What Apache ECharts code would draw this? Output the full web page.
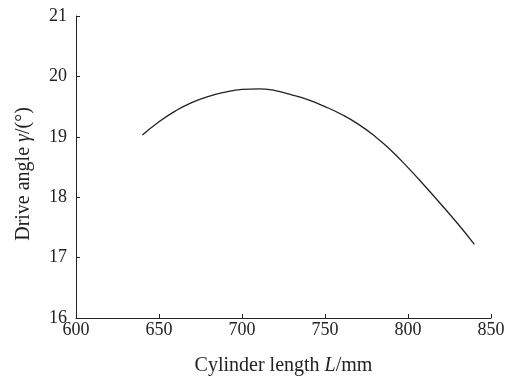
<!DOCTYPE html>
<html>
<head>
<meta charset="utf-8">
<script src="https://cdn.jsdelivr.net/npm/echarts@6/dist/echarts.min.js"></script>
<style>html,body{margin:0;padding:0;background:#fff;}#c{width:513px;height:381px;}</style>
</head>
<body>
<div id="c"></div>
<script>
var lengths = [640, 650, 660, 670, 680, 690, 700, 710, 720, 730, 740, 750, 760, 770, 780, 790, 800, 810, 820, 830, 840];
var angles = [19.03, 19.25, 19.43, 19.57, 19.67, 19.74, 19.785, 19.795, 19.765, 19.695, 19.61, 19.50, 19.37, 19.21, 19.01, 18.77, 18.49, 18.19, 17.88, 17.56, 17.22];

var FONT = 'Liberation Serif';
var chart = echarts.init(document.getElementById('c'), null, {renderer: 'canvas'});
var pts = lengths.map(function (x, i) { return [x, angles[i]]; });
var axisCommon = {
  axisLine: {show: true, onZero: false, lineStyle: {color: '#222', width: 1}},
  axisTick: {show: true, inside: true, length: 4, lineStyle: {color: '#222', width: 1}},
  splitLine: {show: false},
  axisLabel: {color: '#222', fontFamily: FONT, fontSize: 18}
};
var rich = {
  a: {fontFamily: FONT, fontSize: 20, color: '#222'},
  i: {fontFamily: FONT, fontSize: 20, color: '#222', fontStyle: 'italic'}
};
chart.setOption({
  animation: false,
  grid: {left: 76, right: 22, top: 16, bottom: 63, containLabel: false},
  xAxis: Object.assign({}, axisCommon, {
    type: 'value', min: 600, max: 850, interval: 50,
    axisLabel: Object.assign({}, axisCommon.axisLabel, {margin: 3}),
    name: '{a|Cylinder length }{i|L}{a|/mm}',
    nameLocation: 'middle', nameGap: 38,
    nameTextStyle: {rich: rich}
  }),
  yAxis: Object.assign({}, axisCommon, {
    type: 'value', min: 16, max: 21, interval: 1,
    axisLabel: Object.assign({}, axisCommon.axisLabel, {margin: 9}),
    name: '{a|Drive angle }{i|γ}{a|/(°)}',
    nameLocation: 'middle', nameGap: 42,
    nameTextStyle: {rich: rich, padding: [0, 14, 0, 0]}
  }),
  series: [{
    type: 'line', data: pts, smooth: true, showSymbol: false,
    lineStyle: {color: '#222', width: 1.3}
  }]
});
</script>
</body>
</html>
